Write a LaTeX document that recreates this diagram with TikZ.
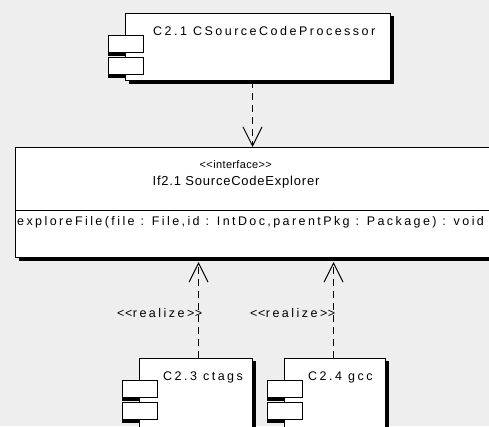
\documentclass[tikz,border=0pt]{standalone}
\usepackage{fontspec}
\setmainfont{Liberation Sans}[Ligatures=ResetAll]
\usetikzlibrary{arrows.meta,calc}
\definecolor{bg}{HTML}{EEEEEE}
\newcommand\lt{\char"3C\kern0.5pt}
\newcommand\gt{\char"3E\kern0.5pt}
\tikzset{
  box/.style={draw=black, line width=1pt, fill=white, inner sep=0pt, anchor=north west},
  txt/.style={font=\fontsize{12.5}{14}\selectfont\addfontfeatures{LetterSpace=20}, inner sep=0pt, text=black},
  optxt/.style={font=\fontsize{12.5}{14}\selectfont\addfontfeatures{LetterSpace=19.3}, inner sep=0pt, text=black},
  titletxt/.style={font=\fontsize{13}{15}\selectfont\addfontfeatures{LetterSpace=6}, inner sep=0pt, text=black},
  stereotxt/.style={font=\fontsize{11}{13}\selectfont\addfontfeatures{LetterSpace=3}, inner sep=0pt, text=black},
  dep/.style={draw=black, line width=1pt, dash pattern=on 7pt off 5pt,
    -{Straight Barb[length=19pt, width=19pt, line width=1pt]}},
  pics/umlcomp/.style n args={4}{code={
    \fill[black] (-17,25) rectangle (18,43);
    \fill[black] (-17,47) rectangle (18,65);
    \fill[black] (4,3) rectangle (#1+4,#2+4);
    \node[box, minimum width=#1pt, minimum height=#2pt] (-main) at (0,0) {};
    \node[box, minimum width=35pt, minimum height=17pt] (-p1) at (-17,22) {};
    \node[box, minimum width=35pt, minimum height=17pt] (-p2) at (-17,44) {};
    \node[txt, anchor=base west] (-name) at (#3,22) {#4};
  }}
}
\begin{document}
\begin{tikzpicture}[x=1pt,y=-1pt]
\useasboundingbox (0,0) rectangle (489,426);
\clip (0,0) rectangle (489,426);
\fill[bg] (0,0) rectangle (489,426);

% top component
\pic (c1) at (125,13) {umlcomp={265}{67}{28}{C2.1 CSourceCodeProcessor}};

% interface
\fill[black] (19,150) rectangle (520,261);
\node[box, minimum width=505pt, minimum height=110pt] (iface) at (15,147) {};
\draw[line width=1pt] (iface.west |- 0,210) coordinate (divl) -- (divl -| iface.east);
\node[stereotxt] (stereo) at (236,165) {\lt\lt interface\gt\gt};
\node[titletxt] (ifname) at (236,182) {If2.1 SourceCodeExplorer};
\node[optxt, anchor=west] (op) at (17,222) {exploreFile(file : File,id : IntDoc,parentPkg : Package) : void};

% bottom components
\pic (c3) at (139,358) {umlcomp={113}{90}{24}{C2.3 ctags}};
\pic (c4) at (284,358) {umlcomp={101}{90}{24}{C2.4 gcc}};

% connectors
\draw[dep] ($(c1-main.south)+(-5.5,0)$) -- ($(c1-main.south |- iface.north)+(-5.5,0)$);
\draw[dep] ($(c3-main.north)+(2.5,0)$) -- ($(c3-main.north |- iface.south)+(2.5,4)$);
\draw[dep] ($(c4-main.north)+(-1.5,0)$) -- ($(c4-main.north |- iface.south)+(-1.5,4)$);

\node[txt] (r1) at (160,313) {\lt\lt realize\gt\gt};
\node[txt] (r2) at (293,313) {\lt\lt realize\gt\gt};
\end{tikzpicture}
\end{document}
